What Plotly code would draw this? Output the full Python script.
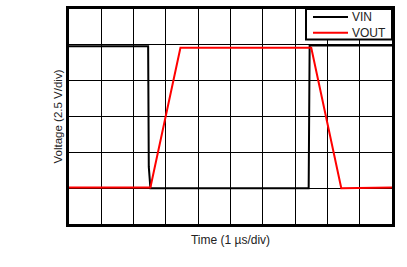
import plotly.graph_objects as go

# time in microseconds, voltage in volts
vin_t = [0, 2.45, 2.47, 2.52, 7.42, 7.45, 10]
vin_v = [9.9, 9.9, 1.5, 0.0, 0.0, 9.95, 9.95]
vout_t = [0, 2.52, 3.45, 7.5, 8.43, 10]
vout_v = [0.05, 0.05, 9.8, 9.8, 0.0, 0.05]
series_names = ["VIN", "VOUT"]
series_colors = ["black", "#ff0000"]

fig = go.Figure()
fig.add_trace(go.Scatter(x=vin_t, y=vin_v, mode="lines", name=series_names[0],
                         line=dict(color=series_colors[0], width=2)))
fig.add_trace(go.Scatter(x=vout_t, y=vout_v, mode="lines", name=series_names[1],
                         line=dict(color=series_colors[1], width=2)))

axis_common = dict(showticklabels=False, ticks="", showgrid=True, gridcolor="black",
                   gridwidth=1, zeroline=False, showline=True, linecolor="black",
                   linewidth=3, mirror=True)
fig.update_xaxes(range=[0, 10], dtick=1, tick0=0,
                 title=dict(text="Time (1 µs/div)", standoff=10,
                            font=dict(size=12, color="#222")), **axis_common)
fig.update_yaxes(range=[-2.5, 12.5], dtick=2.5, tick0=0,
                 title=dict(text="Voltage (2.5 V/div)", standoff=1,
                            font=dict(size=11.5, color="#222")), **axis_common)

# custom legend (paper coordinates)
L, R, T, B = 69, 392, 6, 224
def px(x): return (x - L) / (R - L)
def py(y): return (B - y) / (B - T)

shapes = [dict(type="rect", xref="paper", yref="paper", x0=px(306), x1=px(392),
               y0=py(37), y1=py(6), fillcolor="white",
               line=dict(color="black", width=2), layer="above")]
annotations = []
for i, (nm, col) in enumerate(zip(series_names, series_colors)):
    yy = 14 + 16 * i
    shapes.append(dict(type="line", xref="paper", yref="paper", x0=px(313), x1=px(348),
                       y0=py(yy), y1=py(yy), line=dict(color=col, width=2), layer="above"))
    annotations.append(dict(text=nm, xref="paper", yref="paper", x=px(350), y=py(yy),
                            xanchor="left", yanchor="middle", showarrow=False,
                            font=dict(size=12, color="#222")))

fig.update_layout(
    width=407, height=267,
    margin=dict(l=69, r=15, t=6, b=43),
    paper_bgcolor="white", plot_bgcolor="white",
    font=dict(family="Liberation Sans, Arial, sans-serif", size=11, color="#222"),
    showlegend=False,
    shapes=shapes, annotations=annotations,
)
fig.write_html("out.html")
